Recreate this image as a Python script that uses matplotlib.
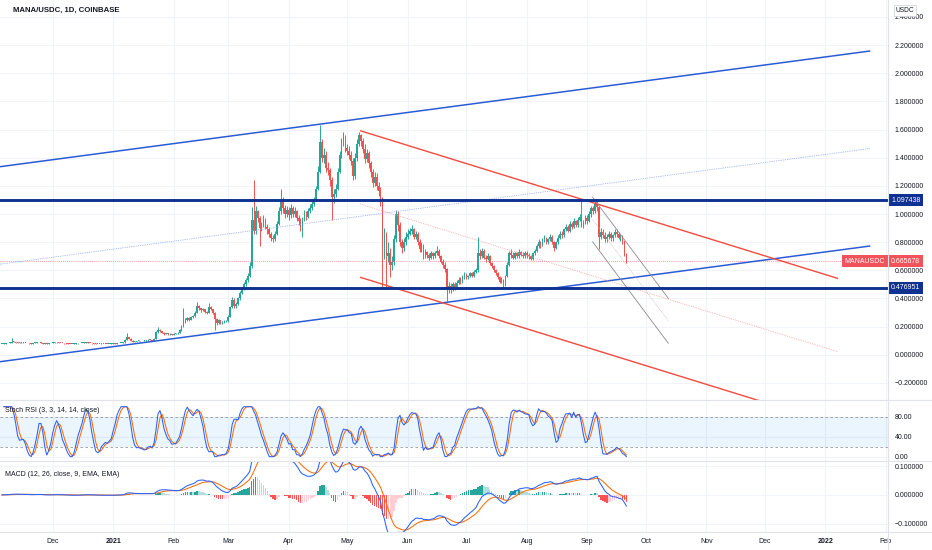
import numpy as np
import pandas as pd
import matplotlib
matplotlib.use("Agg")
import matplotlib.pyplot as plt
import matplotlib.dates as mdates
from matplotlib.lines import Line2D

plt.rcParams['font.family'] = ['Liberation Sans', 'DejaVu Sans']

# ---------------- data (daily candles) ----------------
start_date = "2020-11-05"
first_open = 0.076
close = [
    # Nov 2020
    0.078, 0.080, 0.082, 0.084, 0.087, 0.094, 0.090, 0.087, 0.085, 0.087,
    0.088, 0.086, 0.084, 0.082, 0.081, 0.080, 0.084, 0.087, 0.089, 0.091,
    0.086, 0.079, 0.080, 0.079, 0.082, 0.085,
    # Dec 2020
    0.087, 0.088, 0.089, 0.085, 0.084, 0.083, 0.082, 0.080, 0.079, 0.078,
    0.078, 0.080, 0.082, 0.082, 0.083, 0.085, 0.087, 0.088, 0.086, 0.084,
    0.081, 0.080, 0.076, 0.077, 0.078, 0.079, 0.078, 0.079, 0.078, 0.079,
    0.080,
    # Jan 2021
    0.081, 0.080, 0.082, 0.083, 0.084, 0.088, 0.108, 0.128, 0.115, 0.100,
    0.092, 0.094, 0.097, 0.099, 0.096, 0.099, 0.101, 0.103, 0.106, 0.104,
    0.100, 0.112, 0.160, 0.178, 0.168, 0.158, 0.150, 0.152, 0.146, 0.148,
    0.143,
    # Feb 2021
    0.150, 0.152, 0.158, 0.175, 0.205, 0.232, 0.248, 0.262, 0.250, 0.268,
    0.275, 0.300, 0.345, 0.330, 0.318, 0.325, 0.305, 0.300, 0.340, 0.322,
    0.300, 0.255, 0.228, 0.245, 0.228, 0.232, 0.238, 0.242,
    # Mar 2021
    0.270, 0.340, 0.390, 0.350, 0.360, 0.400, 0.440, 0.470, 0.500, 0.530,
    0.560, 0.630, 0.960, 0.880, 1.020, 0.970, 0.900, 0.920, 0.960, 0.910,
    0.890, 0.860, 0.830, 0.820, 0.860, 0.930, 1.020, 1.100, 1.040, 1.000,
    1.030,
    # Apr 2021
    0.99, 1.04, 1.00, 1.02, 0.97, 0.95, 0.91, 0.96, 1.00, 0.98,
    1.02, 1.04, 1.07, 1.10, 1.18, 1.30, 1.51, 1.40, 1.42, 1.33,
    1.31, 1.24, 1.12, 1.14, 1.18, 1.30, 1.42, 1.50, 1.55, 1.47,
    # May 2021
    1.45, 1.42, 1.38, 1.27, 1.40, 1.50, 1.56, 1.52, 1.46, 1.39,
    1.43, 1.36, 1.30, 1.22, 1.26, 1.20, 1.16, 1.10, 0.77, 0.84,
    0.70, 0.72, 0.64, 0.66, 0.82, 1.00, 0.92, 0.80, 0.76, 0.80,
    0.84,
    # Jun 2021
    0.86, 0.88, 0.89, 0.84, 0.86, 0.80, 0.75, 0.78, 0.70, 0.73,
    0.71, 0.69, 0.72, 0.70, 0.72, 0.74, 0.70, 0.66, 0.64, 0.61,
    0.47, 0.49, 0.46, 0.50, 0.48, 0.51, 0.53, 0.52, 0.55, 0.57,
    # Jul 2021
    0.55, 0.56, 0.58, 0.56, 0.59, 0.60, 0.72, 0.70, 0.74, 0.69,
    0.68, 0.70, 0.65, 0.63, 0.60, 0.58, 0.55, 0.52, 0.53, 0.50,
    0.56, 0.64, 0.72, 0.71, 0.69, 0.72, 0.70, 0.73, 0.71, 0.70,
    0.72,
    # Aug 2021
    0.71, 0.70, 0.68, 0.72, 0.74, 0.77, 0.80, 0.78, 0.81, 0.83,
    0.80, 0.82, 0.84, 0.80, 0.76, 0.80, 0.83, 0.86, 0.85, 0.89,
    0.91, 0.88, 0.93, 0.91, 0.95, 0.92, 0.96, 0.98, 0.92, 0.94,
    0.97,
    # Sep 2021
    0.95, 1.00, 1.04, 1.02, 1.07, 1.05, 0.84, 0.87, 0.85, 0.82,
    0.84, 0.86, 0.83, 0.85, 0.87, 0.86, 0.83, 0.84, 0.81, 0.71,
    0.665678,
]
high = [
    0.080, 0.082, 0.084, 0.086, 0.089, 0.120, 0.096, 0.091, 0.089, 0.089,
    0.090, 0.089, 0.087, 0.085, 0.083, 0.082, 0.086, 0.089, 0.091, 0.093,
    0.092, 0.087, 0.082, 0.082, 0.084, 0.087,
    0.089, 0.090, 0.091, 0.090, 0.086, 0.085, 0.084, 0.083, 0.081, 0.080,
    0.080, 0.081, 0.083, 0.084, 0.085, 0.087, 0.089, 0.091, 0.089, 0.087,
    0.085, 0.082, 0.081, 0.079, 0.080, 0.081, 0.080, 0.080, 0.080, 0.080,
    0.082,
    0.082, 0.082, 0.083, 0.085, 0.086, 0.092, 0.112, 0.157, 0.130, 0.117,
    0.102, 0.097, 0.099, 0.102, 0.100, 0.101, 0.104, 0.106, 0.109, 0.108,
    0.105, 0.116, 0.168, 0.195, 0.180, 0.170, 0.160, 0.156, 0.154, 0.152,
    0.150,
    0.155, 0.156, 0.162, 0.180, 0.212, 0.330, 0.258, 0.270, 0.268, 0.275,
    0.285, 0.308, 0.375, 0.352, 0.335, 0.332, 0.328, 0.312, 0.370, 0.345,
    0.325, 0.305, 0.262, 0.255, 0.250, 0.240, 0.245, 0.250,
    0.280, 0.350, 0.410, 0.400, 0.375, 0.410, 0.455, 0.485, 0.515, 0.545,
    0.580, 0.660, 1.050, 1.240, 1.060, 1.030, 0.985, 0.945, 0.990, 0.975,
    0.930, 0.905, 0.875, 0.850, 0.880, 0.950, 1.050, 1.180, 1.120, 1.065,
    1.060,
    1.05, 1.07, 1.06, 1.05, 1.03, 0.99, 0.97, 0.98, 1.03, 1.02,
    1.04, 1.07, 1.09, 1.12, 1.20, 1.34, 1.63, 1.53, 1.47, 1.45,
    1.37, 1.33, 1.26, 1.18, 1.21, 1.33, 1.45, 1.54, 1.58, 1.56,
    1.50, 1.48, 1.45, 1.40, 1.43, 1.53, 1.585, 1.57, 1.54, 1.50,
    1.46, 1.45, 1.38, 1.32, 1.30, 1.29, 1.23, 1.19, 1.12, 0.90,
    0.87, 0.80, 0.76, 0.70, 0.85, 1.03, 1.02, 0.94, 0.82, 0.83,
    0.87,
    0.89, 0.90, 0.92, 0.90, 0.88, 0.87, 0.82, 0.80, 0.79, 0.75,
    0.74, 0.72, 0.74, 0.73, 0.74, 0.77, 0.75, 0.71, 0.68, 0.66,
    0.62, 0.52, 0.51, 0.52, 0.52, 0.53, 0.55, 0.55, 0.57, 0.59,
    0.58, 0.57, 0.59, 0.59, 0.60, 0.62, 0.84, 0.75, 0.76, 0.75,
    0.71, 0.72, 0.71, 0.66, 0.64, 0.61, 0.59, 0.56, 0.55, 0.54,
    0.57, 0.66, 0.74, 0.75, 0.73, 0.73, 0.73, 0.75, 0.74, 0.73,
    0.74,
    0.74, 0.72, 0.71, 0.73, 0.75, 0.79, 0.82, 0.81, 0.83, 0.85,
    0.84, 0.83, 0.86, 0.85, 0.81, 0.81, 0.85, 0.88, 0.88, 0.90,
    0.93, 0.92, 0.95, 0.94, 0.97, 0.96, 0.98, 1.00, 1.10, 0.96,
    0.99,
    0.99, 1.02, 1.06, 1.06, 1.09, 1.097, 1.06, 0.90, 0.89, 0.87,
    0.86, 0.88, 0.87, 0.86, 0.89, 0.89, 0.87, 0.86, 0.85, 0.81,
    0.72,
]
low = [
    0.075, 0.077, 0.079, 0.082, 0.083, 0.085, 0.088, 0.086, 0.083, 0.084,
    0.086, 0.085, 0.083, 0.081, 0.079, 0.078, 0.079, 0.083, 0.086, 0.088,
    0.084, 0.077, 0.078, 0.077, 0.078, 0.081,
    0.084, 0.086, 0.087, 0.084, 0.083, 0.082, 0.080, 0.079, 0.077, 0.076,
    0.076, 0.077, 0.079, 0.080, 0.081, 0.082, 0.084, 0.086, 0.085, 0.083,
    0.080, 0.079, 0.074, 0.075, 0.076, 0.077, 0.076, 0.077, 0.076, 0.077,
    0.078,
    0.079, 0.078, 0.079, 0.081, 0.082, 0.083, 0.084, 0.104, 0.110, 0.097,
    0.088, 0.090, 0.092, 0.095, 0.094, 0.095, 0.097, 0.100, 0.101, 0.101,
    0.097, 0.099, 0.110, 0.158, 0.160, 0.152, 0.143, 0.146, 0.141, 0.143,
    0.139,
    0.140, 0.147, 0.150, 0.156, 0.172, 0.200, 0.225, 0.240, 0.240, 0.246,
    0.262, 0.270, 0.296, 0.318, 0.305, 0.310, 0.298, 0.288, 0.298, 0.315,
    0.292, 0.176, 0.210, 0.222, 0.220, 0.222, 0.228, 0.234,
    0.236, 0.265, 0.330, 0.335, 0.330, 0.355, 0.390, 0.430, 0.460, 0.490,
    0.520, 0.550, 0.620, 0.860, 0.860, 0.940, 0.770, 0.880, 0.905, 0.890,
    0.860, 0.840, 0.810, 0.800, 0.810, 0.850, 0.920, 1.000, 1.010, 0.970,
    0.980,
    0.96, 0.97, 0.98, 0.98, 0.95, 0.92, 0.88, 0.84, 0.95, 0.96,
    0.97, 1.01, 1.03, 1.06, 1.09, 1.17, 1.29, 1.37, 1.36, 1.30,
    1.28, 1.20, 0.96, 1.08, 1.12, 1.17, 1.29, 1.40, 1.48, 1.44,
    1.42, 1.39, 1.35, 1.24, 1.25, 1.38, 1.48, 1.48, 1.43, 1.36,
    1.37, 1.33, 1.26, 1.19, 1.20, 1.17, 1.13, 1.06, 0.48, 0.68,
    0.48, 0.66, 0.55, 0.60, 0.64, 0.80, 0.88, 0.77, 0.72, 0.74,
    0.78,
    0.82, 0.85, 0.86, 0.82, 0.82, 0.78, 0.73, 0.73, 0.68, 0.69,
    0.69, 0.67, 0.68, 0.68, 0.69, 0.71, 0.69, 0.65, 0.62, 0.59,
    0.38, 0.44, 0.44, 0.45, 0.46, 0.47, 0.50, 0.50, 0.51, 0.54,
    0.54, 0.54, 0.55, 0.55, 0.55, 0.58, 0.59, 0.68, 0.69, 0.68,
    0.66, 0.67, 0.64, 0.62, 0.59, 0.57, 0.54, 0.51, 0.51, 0.48,
    0.49, 0.55, 0.63, 0.69, 0.68, 0.68, 0.69, 0.69, 0.70, 0.69,
    0.69,
    0.69, 0.68, 0.67, 0.67, 0.71, 0.73, 0.76, 0.76, 0.77, 0.80,
    0.79, 0.79, 0.81, 0.79, 0.74, 0.75, 0.79, 0.82, 0.83, 0.84,
    0.88, 0.87, 0.87, 0.89, 0.90, 0.91, 0.91, 0.95, 0.91, 0.90,
    0.93,
    0.93, 0.94, 0.98, 1.00, 1.01, 1.02, 0.75, 0.82, 0.83, 0.80,
    0.80, 0.82, 0.81, 0.81, 0.84, 0.84, 0.82, 0.81, 0.79, 0.70,
    0.65,
]

# horizontal levels and price line
level_resistance = 1.097438
level_support = 0.476951
last_price = 0.665678

# drawn trend lines: (start date, start price, end date, end price)
blue_upper = ("2020-11-04", 1.336, "2022-01-24", 2.158)
blue_lower = ("2020-11-04", -0.049, "2022-01-24", 0.773)
red_upper = ("2021-05-07 12:00", 1.592, "2022-01-07 12:00", 0.542)
red_lower = ("2021-05-07 12:00", 0.551, "2022-01-07 12:00", -0.499)
gray_upper = ("2021-09-03 17:00", 1.119, "2021-10-12 12:00", 0.401)
gray_lower = ("2021-09-03 17:00", 0.803, "2021-10-12 12:00", 0.082)

price_ticks = [-0.2, 0.0, 0.2, 0.4, 0.6, 0.8, 1.0, 1.2, 1.4, 1.6, 1.8, 2.0, 2.2, 2.4]
stoch_ticks = [0, 40, 80]
macd_ticks = [-0.1, 0.0, 0.1]
month_ticks = ["2020-12-01", "2021-01-01", "2021-02-01", "2021-03-01", "2021-04-01",
               "2021-05-01", "2021-06-01", "2021-07-01", "2021-08-01", "2021-09-01",
               "2021-10-01", "2021-11-01", "2021-12-01", "2022-01-01", "2022-02-01"]
month_labels = ["Dec", "2021", "Feb", "Mar", "Apr", "May", "Jun", "Jul", "Aug", "Sep",
                "Oct", "Nov", "Dec", "2022", "Feb"]

# ---------------- derived series ----------------
dates = pd.date_range(start_date, periods=len(close), freq="D")
x = mdates.date2num(dates)
c = np.array(close)
o = np.r_[first_open, c[:-1]]
h = np.maximum(np.array(high), np.maximum(o, c))
l = np.minimum(np.array(low), np.minimum(o, c))

s = pd.Series(c)
delta = s.diff()
gain = delta.clip(lower=0)
loss = -delta.clip(upper=0)
# neutral seed for the Wilder averages (no history before the first visible bar)
seed = delta.abs().iloc[1:15].mean() / 2
gain.iloc[0] = seed
loss.iloc[0] = seed
rs = gain.ewm(alpha=1 / 14, adjust=False).mean() / loss.ewm(alpha=1 / 14, adjust=False).mean()
rsi = 100 - 100 / (1 + rs)
rlo = rsi.rolling(14, min_periods=1).min()
rhi = rsi.rolling(14, min_periods=1).max()
stoch = 100 * (rsi - rlo) / (rhi - rlo).replace(0, np.nan)
k_line = stoch.rolling(3, min_periods=1).mean()
d_line = k_line.rolling(3, min_periods=1).mean()

ema12 = s.ewm(span=12, adjust=False).mean()
ema26 = s.ewm(span=26, adjust=False).mean()
macd = ema12 - ema26
signal = macd.ewm(span=9, adjust=False).mean()
hist = (macd - signal).values
prev = np.r_[hist[0], hist[:-1]]
hist_colors = np.where(hist >= 0,
                       np.where(hist >= prev, "#26A69A", "#B2DFDB"),
                       np.where(hist <= prev, "#FF5252", "#FFCDD2"))

# ---------------- figure ----------------
W, H = 932, 550
fig = plt.figure(figsize=(W / 100, H / 100), dpi=100)
fig.patch.set_facecolor("white")


def rect(x0, y0, x1, y1):
    return [x0 / W, 1 - y1 / H, (x1 - x0) / W, (y1 - y0) / H]


ax = fig.add_axes(rect(0, 0, 888, 400))
ax2 = fig.add_axes(rect(0, 400, 888, 461), sharex=ax)
ax3 = fig.add_axes(rect(0, 461, 888, 532), sharex=ax)

base = mdates.date2num(pd.Timestamp("2020-12-01"))
xlim = (base - 27.0, base + 428.1)

grid_c = "#f0f3fa"
text_c = "#131722"
for a in (ax, ax2, ax3):
    for sp in a.spines.values():
        sp.set_visible(False)
    a.set_facecolor("white")
    a.yaxis.tick_right()
    a.tick_params(axis="y", length=0, pad=5, labelsize=5, labelcolor=text_c)
    a.tick_params(axis="x", length=0)
    a.grid(True, color=grid_c, lw=0.8, zorder=0)
    a.set_axisbelow(True)

ax3.set_xticks(mdates.date2num(pd.to_datetime(month_ticks)))
ax3.set_xticklabels(month_labels)
ax.tick_params(axis="x", labelbottom=False)
ax2.tick_params(axis="x", labelbottom=False)
ax3.tick_params(axis="x", labelsize=5, labelcolor=text_c, pad=4)
for t in ax3.get_xticklabels():
    if t.get_text().startswith("20"):
        t.set_fontweight("bold")
ax.set_xlim(*xlim)


def fmt(v, nd):
    txt = f"{v:.{nd}f}"
    return txt.replace("-", "\u2212")


ax.set_yticks(price_ticks)
ax.set_yticklabels([fmt(v, 6) for v in price_ticks])
ax.set_ylim(-0.321, 2.520)
ax2.set_yticks(stoch_ticks)
ax2.set_yticklabels([fmt(v, 2) for v in stoch_ticks])
ax2.set_ylim(-8.8, 113.4)
ax3.set_yticks(macd_ticks)
ax3.set_yticklabels([fmt(v, 6) for v in macd_ticks])
ax3.set_ylim(-0.129, 0.118)

# ---- candles ----
up_c, dn_c = "#26A69A", "#EF5350"
cols = np.where(c >= o, up_c, dn_c)
ax.vlines(x, l, h, colors=cols, lw=0.7, zorder=2)
body = np.maximum(np.abs(c - o), 0.005)
ax.bar(x, body, bottom=np.minimum(o, c), width=0.85, color=cols, lw=0, zorder=3)


# ---- drawings ----
def seg(line):
    d0, p0, d1, p1 = line
    xs = mdates.date2num(pd.to_datetime([d0, d1]))
    return xs, np.array([p0, p1])


blue_c = "#2B5CD6"
red_c = "#F04B3F"
gray_c = "#8A8A8A"
navy = "#0E3192"

bx, by_u = seg(blue_upper)
_, by_l = seg(blue_lower)
ax.plot(bx, by_u, color=blue_c, lw=1.1, zorder=5, solid_capstyle="butt")
ax.plot(bx, by_l, color=blue_c, lw=1.1, zorder=5, solid_capstyle="butt")
ax.plot(bx, (by_u + by_l) / 2, color="#8FA6EC", lw=0.6, ls=(0, (1, 1.2)), zorder=5)

rx, ry_u = seg(red_upper)
_, ry_l = seg(red_lower)
ax.plot(rx, ry_u, color=red_c, lw=1.0, zorder=5, solid_capstyle="butt")
ax.plot(rx, ry_l, color=red_c, lw=1.0, zorder=5, solid_capstyle="butt")
ax.plot(rx, (ry_u + ry_l) / 2, color="#F4A3A0", lw=0.6, ls=(0, (1, 1.2)), zorder=5)

gx, gy_u = seg(gray_upper)
_, gy_l = seg(gray_lower)
ax.plot(gx, gy_u, color=gray_c, lw=0.6, zorder=5)
ax.plot(gx, gy_l, color=gray_c, lw=0.6, zorder=5)
ax.plot(gx, (gy_u + gy_l) / 2, color="#C8B0B0", lw=0.5, ls=(0, (1, 1.2)), zorder=5)

ax.axhline(level_resistance, color=navy, lw=2.1, zorder=6)
ax.axhline(level_support, color=navy, lw=2.1, zorder=6)
ax.axhline(last_price, color="#F7525F", lw=0.6, ls=(0, (1, 1.5)), zorder=4, alpha=0.8)

# ---- axis label boxes ----
ytr = ax.get_yaxis_transform()
box_kw = dict(fontsize=5, color="white", va="center", clip_on=False, zorder=10)
ax.text(1.0 + 3 / 888, level_resistance, f"{level_resistance:.6f}", transform=ytr, ha="left",
        bbox=dict(boxstyle="square,pad=0.38", fc=navy, ec="none"), **box_kw)
ax.text(1.0 + 3 / 888, level_support, f"{level_support:.6f}", transform=ytr, ha="left",
        bbox=dict(boxstyle="square,pad=0.38", fc=navy, ec="none"), **box_kw)
ax.text(1.0 + 3 / 888, last_price, f"{last_price:.6f}", transform=ytr, ha="left",
        bbox=dict(boxstyle="square,pad=0.38", fc="#F0545A", ec="none"), **box_kw)
ax.text(1.0 - 3 / 888, last_price, "MANAUSDC", transform=ytr, ha="right",
        bbox=dict(boxstyle="square,pad=0.38", fc="#F0545A", ec="none"), **box_kw)

fig.text(905 / W, 1 - 10 / H, "USDC", fontsize=4.8, color=text_c, ha="center", va="center",
         bbox=dict(boxstyle="square,pad=0.3", fc="white", ec="#D1D4DC", lw=0.6), zorder=10)

# ---- title & pane titles ----
fig.text(13 / W, 1 - 10 / H, "MANA/USDC, 1D, COINBASE", fontsize=5.6, color=text_c,
         ha="left", va="center", fontweight="semibold",
         family=["Liberation Sans Narrow", "Liberation Sans", "DejaVu Sans"])

# ---- Stoch RSI ----
ax2.axhspan(20, 80, color="#2196F3", alpha=0.09, lw=0, zorder=1)
ax2.axhline(80, color="#9598A1", lw=0.6, ls=(0, (3, 3)), zorder=2)
ax2.axhline(20, color="#9598A1", lw=0.6, ls=(0, (3, 3)), zorder=2)
ax2.plot(x, k_line, color="#2962FF", lw=0.75, zorder=4)
ax2.plot(x, d_line, color="#FF6D00", lw=0.75, zorder=3)
ax2.text(5 / 888, (461 - 411) / 61, "Stoch RSI (3, 3, 14, 14, close)", transform=ax2.transAxes,
         fontsize=5, color=text_c, ha="left", va="center", zorder=10)

# ---- MACD ----
ax3.bar(x, hist, width=0.75, color=hist_colors, lw=0, zorder=2)
ax3.plot(x, macd, color="#2962FF", lw=0.75, zorder=4)
ax3.plot(x, signal, color="#FF6D00", lw=0.75, zorder=3)
ax3.text(5 / 888, (532 - 474) / 71, "MACD (12, 26, close, 9, EMA, EMA)", transform=ax3.transAxes,
         fontsize=5, color=text_c, ha="left", va="center", zorder=10)

# ---- pane separators / axis border ----
sep_c = "#E0E3EB"
for yy in (400, 461, 532):
    fig.add_artist(Line2D([0, 1], [1 - yy / H, 1 - yy / H], color=sep_c, lw=0.8))
fig.add_artist(Line2D([888 / W, 888 / W], [0, 1], color=sep_c, lw=0.8))

fig.savefig("out.png", dpi=100, facecolor="white")
